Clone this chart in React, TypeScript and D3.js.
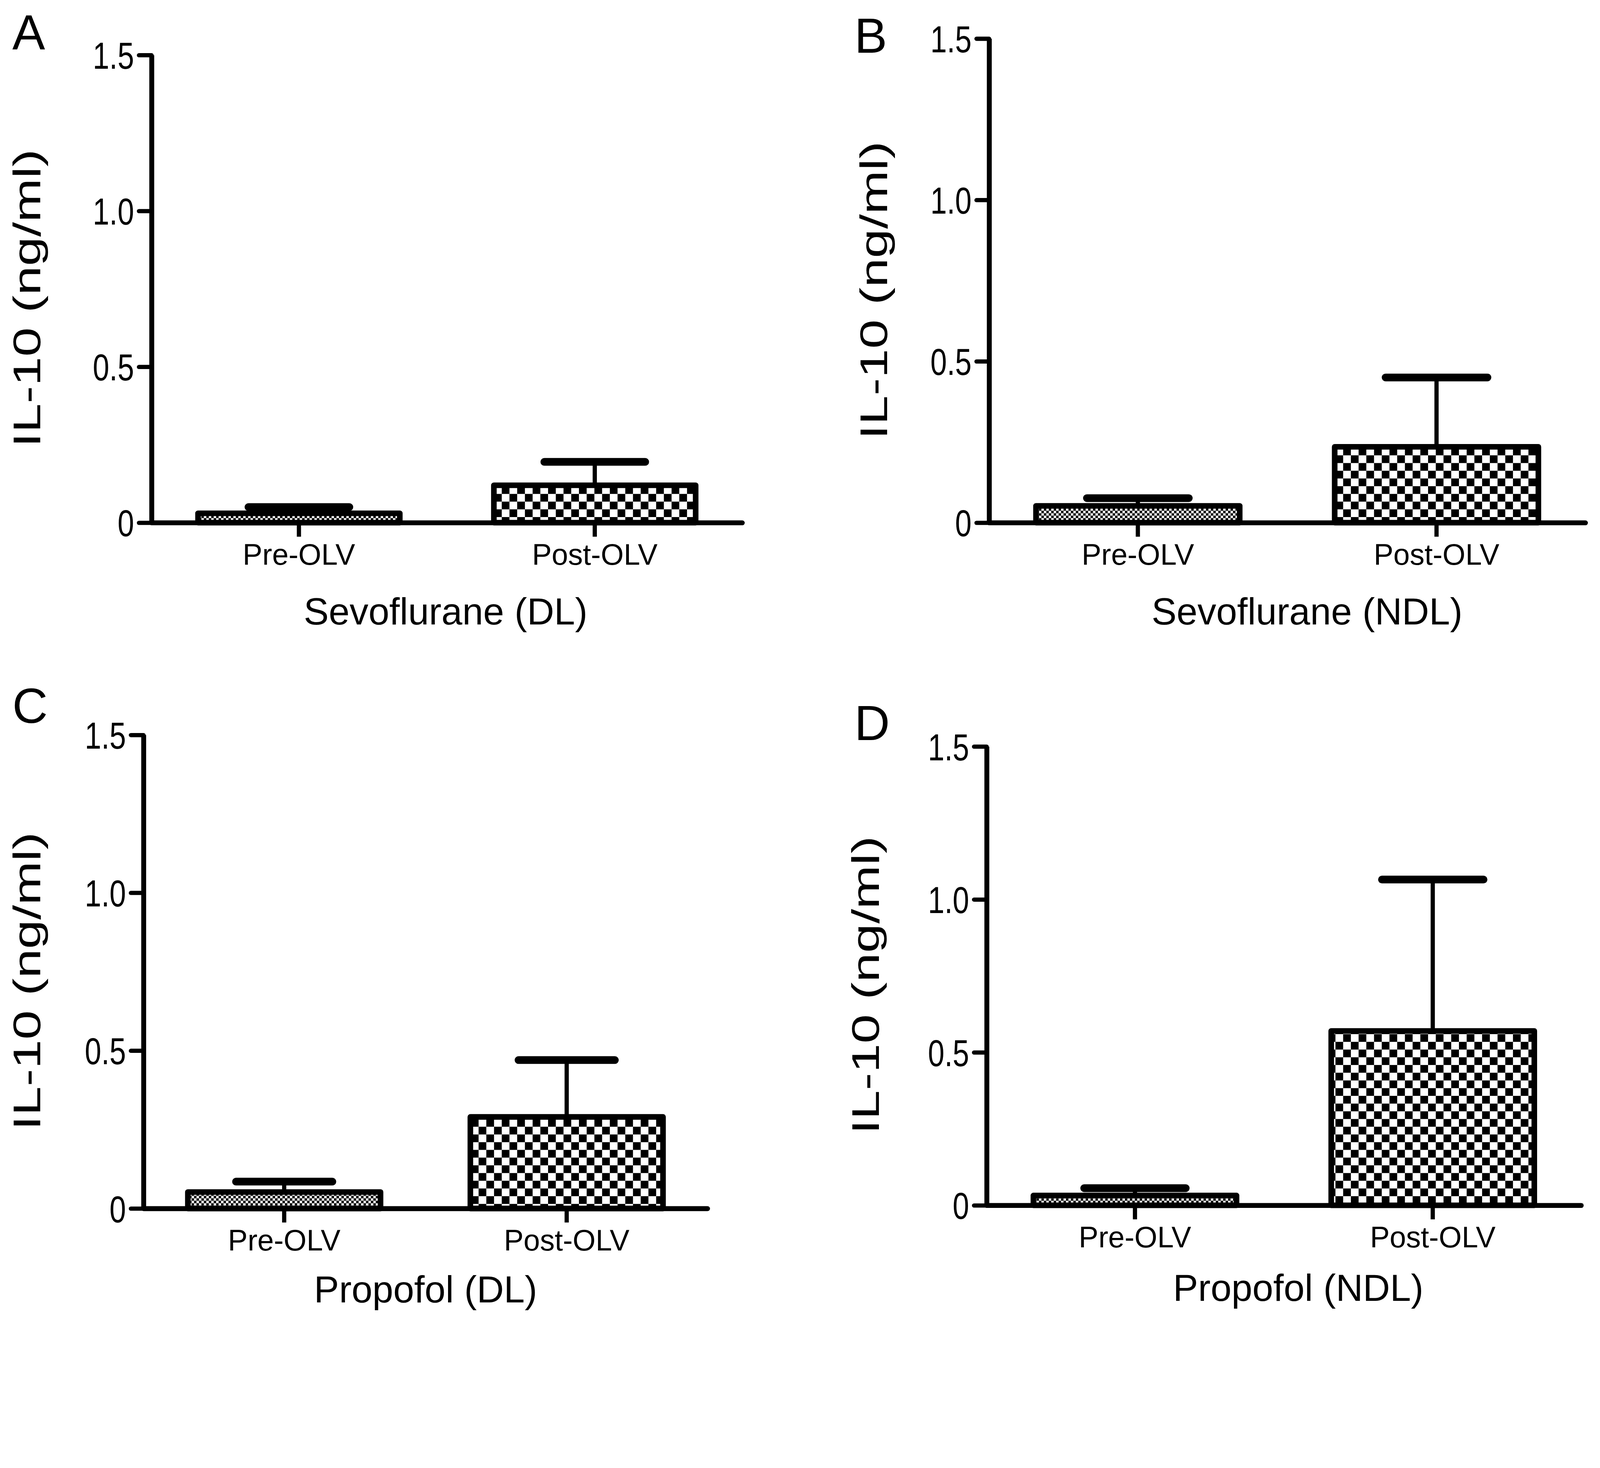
import * as d3 from 'd3';
import * as React from 'react';

// values (mean bar height and the upper SEM whisker)
const categories = ['Pre-OLV', 'Post-OLV'];
const panelLetters = ['A', 'B', 'C', 'D'];
const groupTitles = ['Sevoflurane (DL)', 'Sevoflurane (NDL)', 'Propofol (DL)', 'Propofol (NDL)'];
const meanValues = [
  [0.03, 0.12],
  [0.052, 0.235],
  [0.052, 0.29],
  [0.032, 0.57],
];
const semValues = [
  [0.02, 0.075],
  [0.024, 0.215],
  [0.033, 0.18],
  [0.024, 0.495],
];
const yTicks = [0, 0.5, 1.0, 1.5];
const yTickLabels = ['0', '0.5', '1.0', '1.5'];
const yTitle = 'IL-10 (ng/ml)';

const W = 4560;
const H = 3759;

// pixel frame of each panel
const frames = [
  { x0: 432, x1: 2115, y0: 1490, y1: 157, letterX: 35, letterY: 140, titleX: 115, groupX: 1270, groupDy: 290 },
  { x0: 2819, x1: 4518, y0: 1490, y1: 110, letterX: 2435, letterY: 150, titleX: 2528, groupX: 3725, groupDy: 290 },
  { x0: 409, x1: 2016, y0: 3445, y1: 2095, letterX: 35, letterY: 2061, titleX: 115, groupX: 1213, groupDy: 268 },
  { x0: 2812, x1: 4506, y0: 3436, y1: 2128, letterX: 2435, letterY: 2110, titleX: 2505, groupX: 3700, groupDy: 272 },
];

const FONT = '"Liberation Sans", Arial, Helvetica, sans-serif';
const NARROW = 0.79;

const App = () => {
  const ref = React.useRef<SVGSVGElement | null>(null);

  React.useEffect(() => {
    if (!ref.current) return;
    const svg = d3.select(ref.current);
    svg.selectAll('*').remove();

    const defs = svg.append('defs');
    const addChecker = (id: string, size: number) => {
      const p = defs
        .append('pattern')
        .attr('id', id)
        .attr('patternUnits', 'userSpaceOnUse')
        .attr('width', size * 2)
        .attr('height', size * 2);
      p.append('rect').attr('width', size * 2).attr('height', size * 2).attr('fill', '#fff');
      p.append('rect').attr('width', size).attr('height', size).attr('fill', '#000');
      p.append('rect').attr('x', size).attr('y', size).attr('width', size).attr('height', size).attr('fill', '#000');
    };
    addChecker('check-fine', 7);
    addChecker('check-coarse', 22);
    const fills = ['url(#check-fine)', 'url(#check-coarse)'];

    svg.append('rect').attr('width', W).attr('height', H).attr('fill', '#fff');

    frames.forEach((f, i) => {
      const g = svg.append('g');
      const x = d3.scaleBand().domain(categories).range([f.x0, f.x1]).paddingInner(0.318).paddingOuter(0.157);
      const y = d3.scaleLinear().domain([0, 1.5]).range([f.y0, f.y1]);
      const rows = categories.map((c, j) => ({ c, mean: meanValues[i][j], sem: semValues[i][j], fill: fills[j] }));
      const bw = x.bandwidth();

      // whiskers
      g.selectAll('.whisker')
        .data(rows)
        .enter()
        .append('line')
        .attr('x1', (d) => x(d.c)! + bw / 2)
        .attr('x2', (d) => x(d.c)! + bw / 2)
        .attr('y1', (d) => y(d.mean))
        .attr('y2', (d) => y(d.mean + d.sem))
        .attr('stroke', '#000')
        .attr('stroke-width', 12);

      g.selectAll('.cap')
        .data(rows)
        .enter()
        .append('line')
        .attr('x1', (d) => x(d.c)! + bw / 4)
        .attr('x2', (d) => x(d.c)! + (bw * 3) / 4)
        .attr('y1', (d) => y(d.mean + d.sem))
        .attr('y2', (d) => y(d.mean + d.sem))
        .attr('stroke', '#000')
        .attr('stroke-width', 22)
        .attr('stroke-linecap', 'round');

      g.selectAll('.bar')
        .data(rows)
        .enter()
        .append('rect')
        .attr('x', (d) => x(d.c)!)
        .attr('y', (d) => y(d.mean))
        .attr('width', bw)
        .attr('height', (d) => y(0) - y(d.mean))
        .attr('fill', (d) => d.fill)
        .attr('stroke', '#000')
        .attr('stroke-width', 16)
        .attr('stroke-linejoin', 'round');

      const xAxis = g
        .append('g')
        .attr('transform', `translate(0,${f.y0})`)
        .call(d3.axisBottom(x).tickSize(40).tickSizeOuter(0));
      xAxis.select('.domain').attr('stroke', '#000').attr('stroke-width', 14).attr('stroke-linecap', 'round');
      xAxis.selectAll('.tick line').attr('stroke', '#000').attr('stroke-width', 12);
      xAxis
        .selectAll('.tick text')
        .attr('y', 120)
        .attr('dy', 0)
        .attr('fill', '#000')
        .style('font-family', FONT)
        .style('font-size', '84px');

      const yAxis = g
        .append('g')
        .attr('transform', `translate(${f.x0},0)`)
        .call(
          d3
            .axisLeft(y)
            .tickValues(yTicks)
            .tickFormat((_d, k) => yTickLabels[k])
            .tickSize(36)
            .tickSizeOuter(0)
        );
      yAxis.select('.domain').attr('stroke', '#000').attr('stroke-width', 14);
      yAxis.selectAll('.tick line').attr('stroke', '#000').attr('stroke-width', 12).attr('stroke-linecap', 'round');
      yAxis
        .selectAll('.tick text')
        .attr('x', -50 / NARROW)
        .attr('dy', '0.36em')
        .attr('transform', `scale(${NARROW},1)`)
        .attr('fill', '#000')
        .style('font-family', FONT)
        .style('font-size', '107px');
      g.selectAll('.domain').attr('fill', 'none');

      g.append('text')
        .attr('x', f.groupX)
        .attr('y', f.y0 + f.groupDy)
        .attr('text-anchor', 'middle')
        .style('font-family', FONT)
        .style('font-size', '107px')
        .text(groupTitles[i]);

      g.append('text')
        .attr('transform', `translate(${f.titleX},${y(0.72)}) rotate(-90)`)
        .attr('text-anchor', 'middle')
        .attr('textLength', 850)
        .attr('lengthAdjust', 'spacingAndGlyphs')
        .style('font-family', FONT)
        .style('font-size', '110px')
        .text(yTitle);

      g.append('text')
        .attr('x', f.letterX)
        .attr('y', f.letterY)
        .style('font-family', FONT)
        .style('font-size', '140px')
        .text(panelLetters[i]);
    });
  }, []);

  return (
    <svg
      ref={ref}
      viewBox={`0 0 ${W} ${H}`}
      style={{ position: 'absolute', left: 0, top: 0, width: '100%', height: 'auto', display: 'block' }}
    />
  );
};

export default App;
